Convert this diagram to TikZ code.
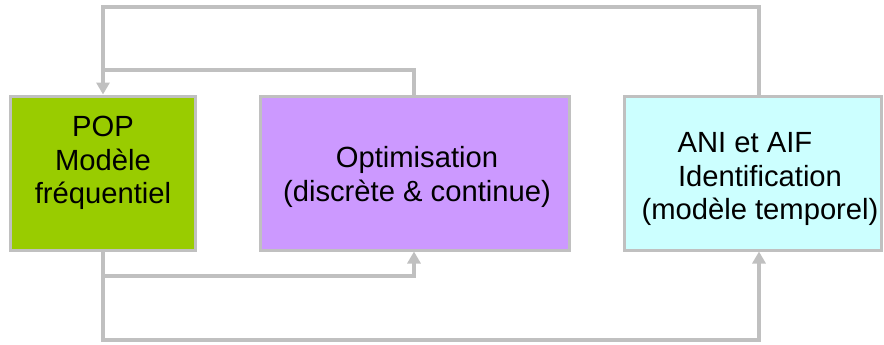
\documentclass[tikz,border=0pt]{standalone}
\usepackage{fontspec}
\setmainfont{Liberation Sans}
\usetikzlibrary{arrows.meta}
\definecolor{popGreen}{HTML}{99CC00}
\definecolor{optPurple}{HTML}{CC99FF}
\definecolor{aifCyan}{HTML}{CCFFFF}
\definecolor{linkGray}{HTML}{C0C0C0}

\begin{document}
\begin{tikzpicture}[x=0.5pt, y=-0.5pt,
        box/.style={draw=linkGray, line width=1.5pt, rectangle, inner sep=0pt},
        boxtext/.style={align=center, inner sep=0pt, font=\fontsize{14.6pt}{16.8pt}\selectfont},
        link/.style={draw=linkGray, line width=2pt},
        tip/.style={-{Triangle[width=6.5pt,length=6pt]}}]
        \useasboundingbox (0,0) rectangle (884,344);

        % Define the nodes
        \node[box, fill=popGreen, minimum width=92.5pt, minimum height=77pt] (pop) at (103,173) {};
        \node[box, fill=optPurple, minimum width=154.5pt, minimum height=77pt] (opt) at (415,173) {};
        \node[box, fill=aifCyan, minimum width=128.5pt, minimum height=77pt] (aif) at (753,173) {};

        \node[boxtext] (popText) at (103,163) {POP\\Modèle\\fréquentiel};
        \node[boxtext] (optText) at (417,177) {Optimisation\\(discrète \& continue)};
        \node[boxtext] (aifText) at (760,179) {ANI et AIF\hspace*{15pt}\\Identification\\(modèle temporel)};

        % Define the corners of the links
        \coordinate (topLeft) at (103,7);
        \coordinate (topRight) at (759,7);
        \coordinate (midTop) at (414,70);
        \coordinate (midBottom) at (414,275.5);
        \coordinate (botLeft) at (103,339.5);
        \coordinate (botRight) at (759,339.5);

        \begin{scope}[link]
        \draw[tip] (aif.north -| topRight) -- (topRight) -- (topLeft) -- (pop.north -| topLeft);
        \draw (opt.north -| midTop) -- (midTop) -- (midTop -| topLeft);
        \draw[tip] (pop.south -| botLeft) -- (botLeft) -- (botRight) -- (aif.south -| botRight);
        \draw[tip] (midBottom -| botLeft) -- (midBottom) -- (opt.south -| midBottom);
        \end{scope}
    \end{tikzpicture}
\end{document}
